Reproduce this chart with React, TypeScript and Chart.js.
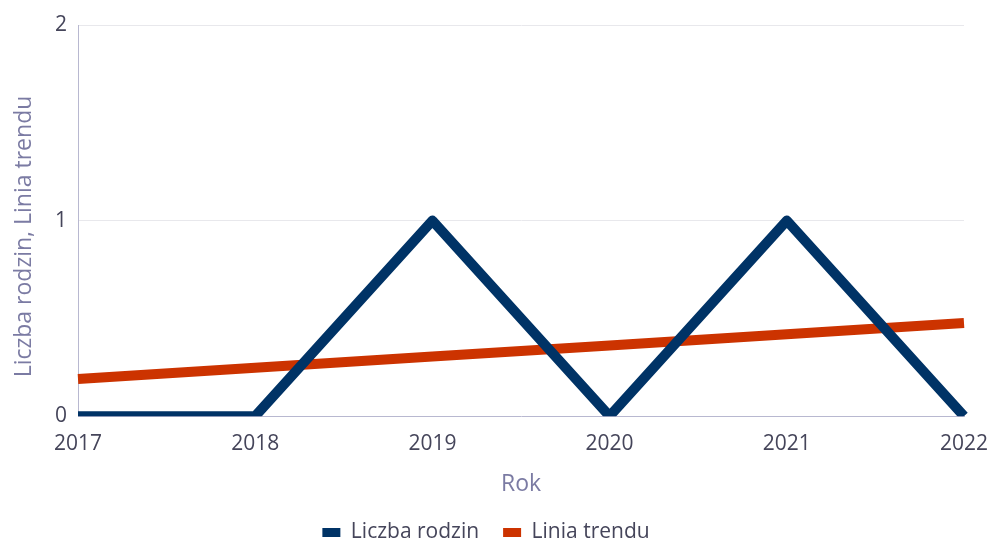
import React, { useEffect, useRef } from "react";
import { Chart, registerables } from "chart.js";

Chart.register(...registerables);

const years = ["2017", "2018", "2019", "2020", "2021", "2022"];
const familyCount = [0, 0, 1, 0, 1, 0];
const trendLine = [0.19, 0.248, 0.305, 0.362, 0.419, 0.476];
const yTicks = [0, 1, 2];
const yTitle = "Liczba rodzin, Linia trendu";
const xTitle = "Rok";

const FONT = "'Open Sans', 'Noto Sans', sans-serif";

const yTitlePlugin = {
  id: "yTitlePlugin",
  afterDraw(chart: any) {
    const ctx = chart.ctx;
    ctx.save();
    ctx.translate(31, 236.5);
    ctx.rotate(-Math.PI / 2);
    ctx.font = `23px ${FONT}`;
    ctx.fillStyle = "#7b7ba3";
    ctx.textAlign = "center";
    ctx.textBaseline = "alphabetic";
    ctx.fillText(yTitle, 0, 0);
    ctx.restore();
  },
};

export default function App() {
  const ref = useRef<HTMLCanvasElement | null>(null);

  useEffect(() => {
    document.body.style.margin = "0";
    const ctx = ref.current!;
    const chart = new Chart(ctx, {
      type: "line",
      data: {
        labels: years,
        datasets: [
          {
            label: "Liczba rodzin",
            data: familyCount,
            borderColor: "#003366",
            backgroundColor: "#003366",
            borderWidth: 10,
            pointRadius: 0,
            tension: 0,
            borderCapStyle: "butt",
            borderJoinStyle: "round",
          },
          {
            label: "Linia trendu",
            data: trendLine,
            borderColor: "#CC3300",
            backgroundColor: "#CC3300",
            borderWidth: 10,
            pointRadius: 0,
            tension: 0,
            borderCapStyle: "butt",
            borderJoinStyle: "round",
          },
        ],
      },
      plugins: [yTitlePlugin],
      options: {
        animation: false,
        responsive: false,
        maintainAspectRatio: false,
        layout: { padding: { top: 25, right: 16, left: 0, bottom: -11 } },
        plugins: {
          tooltip: { enabled: false },
          legend: {
            position: "bottom",
            labels: {
              boxWidth: 18,
              boxHeight: 9,
              padding: 24,
              color: "#45455a",
              font: { family: FONT, size: 21 },
              generateLabels: (c: any) =>
                Chart.defaults.plugins.legend.labels.generateLabels(c).map((l: any) => ({
                  ...l,
                  lineWidth: 0,
                  strokeStyle: "rgba(0,0,0,0)",
                })),
            },
          },
        },
        scales: {
          x: {
            type: "category",
            offset: false,
            afterFit: (scale: any) => {
              scale.paddingRight = 24;
            },
            grid: { display: false, drawTicks: false },
            border: { color: "#b8b8d0", width: 1 },
            ticks: {
              color: "#45455a",
              font: { family: FONT, size: 21 },
              padding: 15,
              maxRotation: 0,
            },
            title: {
              display: true,
              text: xTitle,
              color: "#7b7ba3",
              font: { family: FONT, size: 23 },
              padding: { top: -1, bottom: 0 },
            },
          },
          y: {
            min: 0,
            max: 2,
            afterBuildTicks: (axis: any) => {
              axis.ticks = yTicks.map((v) => ({ value: v }));
            },
            afterFit: (scale: any) => {
              scale.width = 78;
            },
            grid: {
              color: (c: any) => (c.tick && c.tick.value === 0 ? "rgba(0,0,0,0)" : "#e8e8ec"),
              drawTicks: false,
            },
            border: { color: "#b8b8d0", width: 1 },
            ticks: {
              color: "#45455a",
              font: { family: FONT, size: 21 },
              padding: 11,
            },
            title: { display: false },
          },
        },
      },
    });
    return () => chart.destroy();
  }, []);

  return (
    <div style={{ position: "absolute", left: 0, top: 0, width: 988, height: 542 }}>
      <canvas ref={ref} width={988} height={542} style={{ width: 988, height: 542 }} />
    </div>
  );
}
